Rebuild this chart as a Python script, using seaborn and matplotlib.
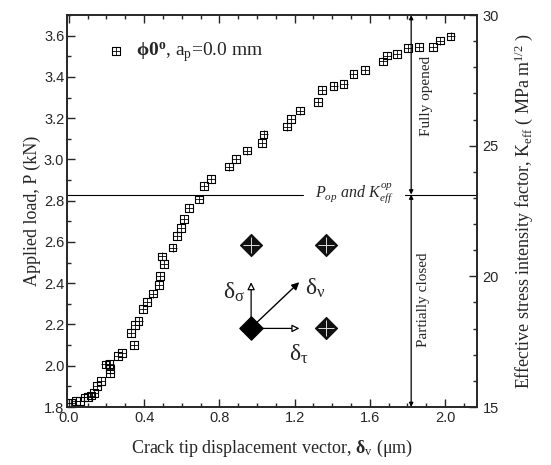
import numpy as np
import pandas as pd
import matplotlib
matplotlib.use("Agg")
import matplotlib.pyplot as plt
import seaborn as sns
from matplotlib.ticker import MultipleLocator, FormatStrFormatter
from matplotlib.legend_handler import HandlerTuple

# ---- data ----
disp = [0.012, 0.037, 0.060, 0.083, 0.101, 0.117, 0.135, 0.151, 0.172, 0.194,
        0.217, 0.220, 0.220, 0.261, 0.283, 0.345, 0.331, 0.350, 0.371, 0.393,
        0.415, 0.446, 0.480, 0.483, 0.507, 0.496, 0.551, 0.576, 0.595, 0.613,
        0.638, 0.691, 0.718, 0.755, 0.850, 0.888, 0.946, 1.026, 1.035, 1.159,
        1.182, 1.230, 1.324, 1.346, 1.408, 1.461, 1.513, 1.573, 1.671, 1.692,
        1.746, 1.804, 1.861, 1.936, 1.973, 2.030]
load = [1.818, 1.830, 1.830, 1.847, 1.850, 1.855, 1.869, 1.903, 1.927, 2.007,
        2.008, 1.984, 1.963, 2.047, 2.063, 2.100, 2.160, 2.197, 2.216, 2.274,
        2.309, 2.350, 2.390, 2.434, 2.492, 2.530, 2.573, 2.629, 2.668, 2.710,
        2.766, 2.806, 2.870, 2.904, 2.965, 3.002, 3.043, 3.081, 3.121, 3.159,
        3.197, 3.237, 3.277, 3.337, 3.356, 3.366, 3.414, 3.434, 3.475, 3.503,
        3.511, 3.540, 3.546, 3.546, 3.576, 3.596]
p_op = 2.83          # opening load (kN)
x_split = 1.82       # position of the opened/closed arrows
xlim = (-0.01, 2.17)
ylim = (1.8, 3.7)
k_lim = (15, 30)

# schematic of the crack-tip displacement components
diamond_x = [0.969, 1.367, 1.367]
diamond_y = [2.587, 2.587, 2.181]
origin = (0.969, 2.181)

sns.set_style("ticks")
plt.rcParams["font.family"] = ["Liberation Serif", "DejaVu Serif"]
plt.rcParams["mathtext.fontset"] = "custom"
plt.rcParams["mathtext.rm"] = "Liberation Serif"
plt.rcParams["mathtext.it"] = "Liberation Serif:italic"
plt.rcParams["mathtext.bf"] = "Liberation Serif:bold"

fig = plt.figure(figsize=(5.51, 4.65), dpi=100)
ax = fig.add_axes([0.1216, 0.1247, 0.7441, 0.8430])

MS = 30
df = pd.DataFrame({"disp": disp, "load": load})
sns.scatterplot(data=df, x="disp", y="load", marker="s", s=MS,
                facecolors="none", edgecolors="black", linewidth=0.8, ax=ax, zorder=3)
sns.scatterplot(data=df, x="disp", y="load", marker="+", s=MS,
                color="black", linewidth=0.6, ax=ax, zorder=3)

# schematic diamonds
dd = pd.DataFrame({"x": diamond_x, "y": diamond_y})
sns.scatterplot(data=dd, x="x", y="y", marker="D", s=125, color="#111111",
                edgecolor="#111111", ax=ax, zorder=4)
sns.scatterplot(data=dd, x="x", y="y", marker="+", s=120, color="#dddddd",
                linewidth=0.7, ax=ax, zorder=5)
od = pd.DataFrame({"x": [origin[0]], "y": [origin[1]]})
sns.scatterplot(data=od, x="x", y="y", marker="D", s=140, color="black",
                edgecolor="black", ax=ax, zorder=4)

# arrows of the schematic
ox, oy = origin
ax.annotate("", xy=(ox, 2.405), xytext=(ox, oy + 0.05),
            arrowprops=dict(arrowstyle="-|>", fc="white", ec="black", lw=0.9,
                            mutation_scale=11, shrinkA=0, shrinkB=0), zorder=6)
ax.annotate("", xy=(1.226, oy), xytext=(ox + 0.055, oy),
            arrowprops=dict(arrowstyle="-|>", fc="white", ec="black", lw=0.9,
                            mutation_scale=11, shrinkA=0, shrinkB=0), zorder=6)
ax.annotate("", xy=(1.225, 2.405), xytext=(ox + 0.02, oy + 0.02),
            arrowprops=dict(arrowstyle="-|>", fc="black", ec="black", lw=1.0,
                            mutation_scale=11, shrinkA=0, shrinkB=0), zorder=6)
ax.text(0.935, 2.355, r"$\mathregular{\delta_\sigma}$", fontsize=17, ha="right", va="center")
ax.text(1.255, 2.375, r"$\mathregular{\delta_\nu}$", fontsize=17, ha="left", va="center")
ax.text(1.17, 2.055, r"$\mathregular{\delta_\tau}$", fontsize=17, ha="left", va="center")

# opening level line with label
ax.plot([xlim[0], 1.245], [p_op, p_op], color="black", lw=0.8)
ax.plot([1.785, xlim[1]], [p_op, p_op], color="black", lw=0.8)
ax.text(1.515, p_op + 0.005, r"$P_{op}$ and $K_{eff}^{op}$", fontsize=11.5,
        fontstyle="italic", ha="center", va="center")

# fully opened / partially closed arrows
for y0, y1 in [(p_op, ylim[1]), (p_op, ylim[0])]:
    ax.annotate("", xy=(x_split, y1), xytext=(x_split, y0),
                arrowprops=dict(arrowstyle="<|-|>", fc="black", ec="black", lw=0.9,
                                mutation_scale=6, shrinkA=0, shrinkB=0))
ax.text(x_split + 0.08, 3.31, "Fully opened", rotation=90, fontsize=11,
        ha="center", va="center")
ax.text(x_split + 0.065, 2.32, "Partially closed", rotation=90, fontsize=11,
        ha="center", va="center")

# legend
h1 = ax.scatter([], [], marker="s", s=MS, facecolors="none", edgecolors="black", linewidth=0.8)
h2 = ax.scatter([], [], marker="+", s=MS, color="black", linewidth=0.6)
ax.legend(handles=[(h1, h2)],
          labels=[r"$\mathbf{\phi 0^o}$, a$_\mathregular{p}$=0.0 mm"],
          handler_map={tuple: HandlerTuple(ndivide=1, pad=0)},
          loc="upper left", bbox_to_anchor=(0.055, 0.98), frameon=False,
          handlelength=0.9, handletextpad=0.6, fontsize=14)

ax.set_xlim(*xlim)
ax.set_ylim(*ylim)
ax.xaxis.set_major_locator(MultipleLocator(0.4))
ax.xaxis.set_minor_locator(MultipleLocator(0.1))
ax.yaxis.set_major_locator(MultipleLocator(0.2))
ax.yaxis.set_minor_locator(MultipleLocator(0.1))
ax.xaxis.set_major_formatter(FormatStrFormatter("%.1f"))
ax.yaxis.set_major_formatter(FormatStrFormatter("%.1f"))
ax.tick_params(which="both", direction="in", top=True, right=False, width=1.0)
ax.tick_params(which="major", length=6, labelsize=10.5, pad=3)
ax.tick_params(axis="y", which="major", pad=2)
ax.tick_params(which="minor", length=3)
for lab in ax.get_xticklabels() + ax.get_yticklabels():
    lab.set_family("Liberation Sans")
for sp in ax.spines.values():
    sp.set_linewidth(1.2)

ax.set_xlabel(r"Crack tip displacement vector, $\mathbf{δ}_\mathregular{v}$ (μm)",
              fontsize=13, labelpad=9)
ax.set_ylabel("Applied load, P (kN)", fontsize=13, labelpad=2)

ax2 = ax.twinx()
ax2.set_ylim(*k_lim)
ax2.yaxis.set_major_locator(MultipleLocator(5))
ax2.yaxis.set_minor_locator(MultipleLocator(1))
ax2.tick_params(which="both", direction="in", width=1.0)
ax2.tick_params(which="major", length=6, labelsize=10.5, pad=4)
ax2.tick_params(which="minor", length=3)
for lab in ax2.get_yticklabels():
    lab.set_family("Liberation Sans")
ax2.set_ylabel(r"Effective stress intensity factor, K$_\mathregular{eff}$ ( MPa m$^\mathregular{1/2}$ )",
               fontsize=13, labelpad=10)
for sp in ax2.spines.values():
    sp.set_linewidth(1.2)

fig.savefig("out.png", dpi=100)
